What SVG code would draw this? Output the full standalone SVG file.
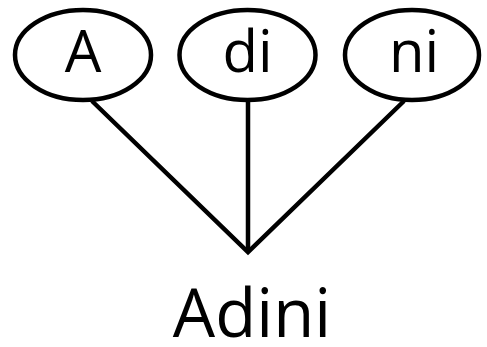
<svg xmlns="http://www.w3.org/2000/svg" width="487" height="347" viewBox="0 0 487 347">
  <style>
    .node ellipse { fill: #ffffff; stroke: #000000; stroke-width: 4.5; }
    .lbl { font-family: "Open Sans", "DejaVu Sans", sans-serif; font-size: 58px; fill: #000000; text-anchor: middle; }
    .edge { fill: none; stroke: #000000; stroke-width: 4.5; stroke-linejoin: miter; stroke-miterlimit: 10; }
    .root { font-family: "Open Sans", "DejaVu Sans", sans-serif; font-size: 67px; fill: #000000; text-anchor: middle; }
  </style>
  <rect width="487" height="347" fill="#ffffff"/>
  <g id="connectors">
    <path class="edge" d="M92,101 L248,252 L404,101"/>
    <path class="edge" d="M248,100 L248,252"/>
  </g>
  <g id="node-A" class="node">
    <ellipse cx="83" cy="55" rx="68" ry="45"/>
    <text class="lbl" x="83" y="72">A</text>
  </g>
  <g id="node-di" class="node">
    <ellipse cx="247.5" cy="55" rx="68" ry="45"/>
    <text class="lbl" x="247.5" y="72">di</text>
  </g>
  <g id="node-ni" class="node">
    <ellipse cx="412" cy="55" rx="67" ry="45"/>
    <text class="lbl" x="414" y="72">ni</text>
  </g>
  <g id="node-Adini">
    <text class="root" x="252" y="337">Adini</text>
  </g>
</svg>
